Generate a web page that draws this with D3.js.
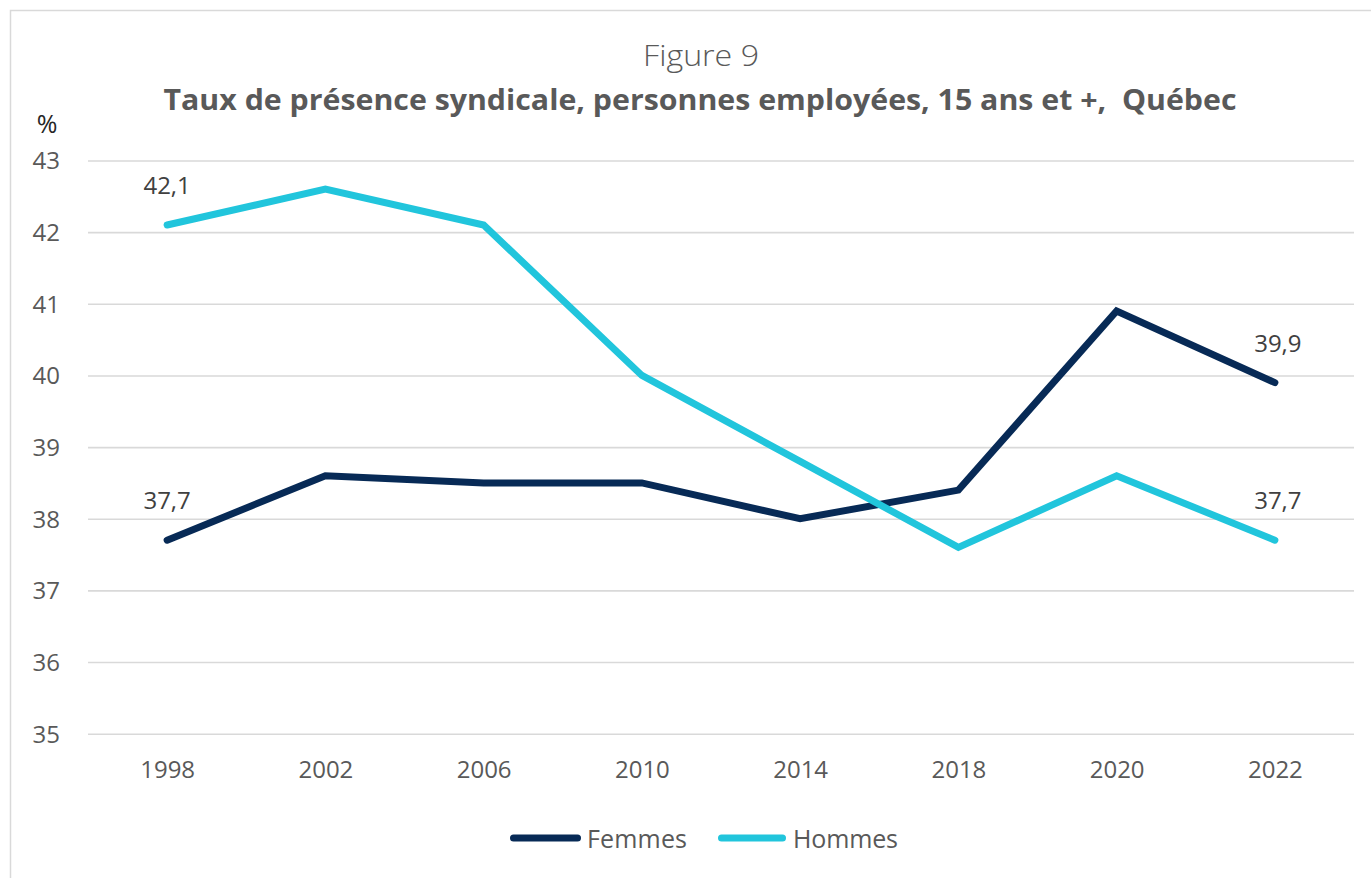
<!DOCTYPE html>
<html>
<head>
<meta charset="utf-8">
<script src="https://cdn.jsdelivr.net/npm/d3@7"></script>
<style>
  html, body { margin: 0; padding: 0; background: #fff; }
  svg { display: block; }
  text { font-family: "Open Sans", "Noto Sans", sans-serif; }
</style>
</head>
<body>
<svg id="chart" width="1371" height="878"></svg>
<script>
const years = ["1998", "2002", "2006", "2010", "2014", "2018", "2020", "2022"];
const femmes = [37.7, 38.6, 38.5, 38.5, 38.0, 38.4, 40.9, 39.9];
const hommes = [42.1, 42.6, 42.1, 40.0, 38.8, 37.6, 38.6, 37.7];
const yTicks = [35, 36, 37, 38, 39, 40, 41, 42, 43];
const labelledIdx = [0, 7];
const seriesNames = ["Femmes", "Hommes"];
const titleTop = "Figure 9";
const titleMain = "Taux de présence syndicale, personnes employées, 15 ans et +,  Québec";
const yUnit = "%";

const colors = { Femmes: "#072a56", Hommes: "#21c5dc" };
const series = [
  { name: seriesNames[0], values: femmes },
  { name: seriesNames[1], values: hommes }
];

const svg = d3.select("#chart");

// frame
svg.append("rect")
  .attr("x", 10.5).attr("y", 10.5)
  .attr("width", 1400).attr("height", 900)
  .attr("fill", "none").attr("stroke", "#d9d9d9").attr("stroke-width", 1.5);

const x = d3.scalePoint().domain(years).range([88, 1354]).padding(0.5);
const y = d3.scaleLinear().domain([35, 43]).range([733.7, 160.5]);

// gridlines
const grid = svg.append("g")
  .attr("transform", "translate(88,0)")
  .call(d3.axisLeft(y).tickValues(yTicks).tickSize(-(1354 - 88)).tickFormat(""));
grid.select(".domain").remove();
grid.selectAll(".tick line").attr("stroke", "#d9d9d9").attr("stroke-width", 1.6);

// y tick labels
const yAxis = svg.append("g")
  .attr("transform", "translate(60,0)")
  .call(d3.axisLeft(y).tickValues(yTicks).tickSize(0).tickPadding(0).tickFormat(d3.format("d")));
yAxis.select(".domain").remove();
yAxis.selectAll("text")
  .attr("fill", "#595959")
  .style("font-size", "24px")
  .style("font-family", "'Open Sans', sans-serif")
  .attr("dy", "0.35em");

// x tick labels
const xAxis = svg.append("g")
  .attr("transform", "translate(0,760)")
  .call(d3.axisBottom(x).tickSize(0).tickPadding(0));
xAxis.select(".domain").remove();
xAxis.selectAll("text")
  .attr("fill", "#595959")
  .style("font-size", "24px")
  .style("font-family", "'Open Sans', sans-serif")
  .attr("dy", "0.75em");

// lines
const line = d3.line()
  .x((d, i) => x(years[i]))
  .y(d => y(d));

svg.append("g").selectAll("path")
  .data(series)
  .join("path")
  .attr("d", d => line(d.values))
  .attr("fill", "none")
  .attr("stroke", d => colors[d.name])
  .attr("stroke-width", 7)
  .attr("stroke-linecap", "round")
  .attr("stroke-linejoin", "miter");

// data labels
const fmt = v => d3.format(".1f")(v).replace(".", ",");
series.forEach(s => {
  svg.append("g").selectAll("text")
    .data(labelledIdx)
    .join("text")
    .attr("x", i => x(years[i]) + (i === years.length - 1 ? 3 : 0))
    .attr("y", i => y(s.values[i]) - 31)
    .attr("text-anchor", "middle")
    .attr("fill", "#404040")
    .style("font-size", "24px")
    .text(i => fmt(s.values[i]));
});

// % unit
svg.append("text")
  .attr("x", 47).attr("y", 133)
  .attr("text-anchor", "middle")
  .attr("fill", "#262626")
  .style("font-size", "25px")
  .text(yUnit);

// titles
svg.append("text")
  .attr("x", 701).attr("y", 66)
  .attr("text-anchor", "middle")
  .attr("fill", "#595959")
  .style("font-size", "29px")
  .style("font-weight", 300)
  .attr("textLength", 116)
  .attr("lengthAdjust", "spacingAndGlyphs")
  .text(titleTop);

svg.append("text")
  .attr("x", 700).attr("y", 110)
  .attr("text-anchor", "middle")
  .attr("fill", "#595959")
  .style("font-size", "28px")
  .style("font-weight", 700)
  .style("white-space", "pre")
  .attr("textLength", 1073)
  .attr("lengthAdjust", "spacingAndGlyphs")
  .text(titleMain);

// legend
const legendItems = [
  { name: seriesNames[0], x1: 510, x2: 581, tx: 587, tw: 100 },
  { name: seriesNames[1], x1: 718, x2: 786, tx: 793, tw: 105 }
];
const lg = svg.append("g");
legendItems.forEach(it => {
  lg.append("line")
    .attr("x1", it.x1 + 3.5).attr("x2", it.x2 - 3.5)
    .attr("y1", 838).attr("y2", 838)
    .attr("stroke", colors[it.name])
    .attr("stroke-width", 7)
    .attr("stroke-linecap", "round");
  lg.append("text")
    .attr("x", it.tx).attr("y", 848)
    .attr("fill", "#595959")
    .style("font-size", "25px")
    .attr("textLength", it.tw)
    .attr("lengthAdjust", "spacing")
    .text(it.name);
});
</script>
</body>
</html>
